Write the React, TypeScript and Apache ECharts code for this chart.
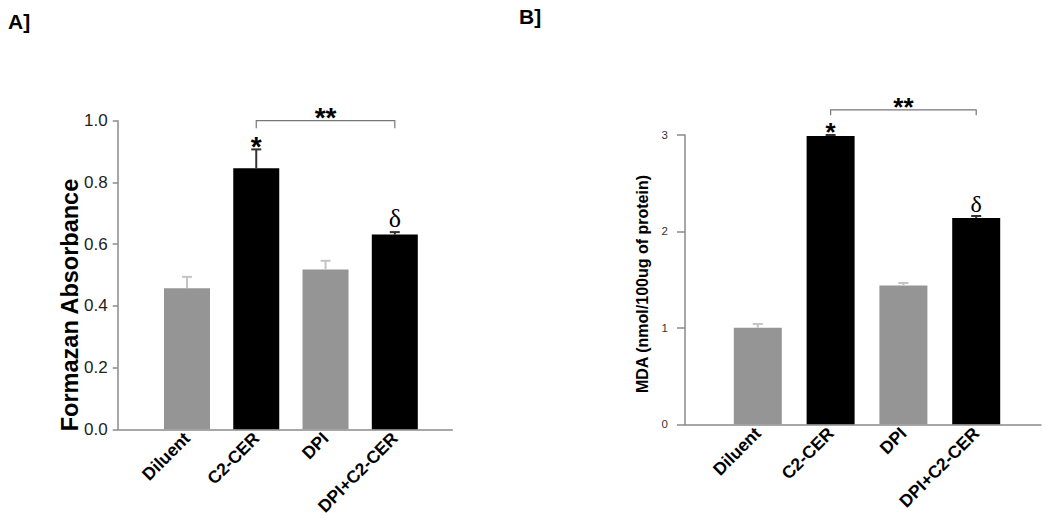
import React, { useEffect, useRef } from "react";
import * as echarts from "echarts";

// ---- data ----
const categories = ["Diluent", "C2-CER", "DPI", "DPI+C2-CER"];
const formazanMean = [0.457, 0.846, 0.518, 0.631];
const formazanErr = [0.037, 0.061, 0.028, 0.008];
const mdaMean = [1.0, 2.99, 1.44, 2.14];
const mdaErr = [0.04, 0.01, 0.025, 0.02];
const isTreated = [false, true, false, true];
const sigA = ["", "*", "", "δ"];
const sigB = ["", "*", "", "δ"];
const formazanTicks = [0, 0.2, 0.4, 0.6, 0.8, 1.0];
const mdaTicks = [0, 1, 2, 3];
// bracket: from category #, to category #, y level (data units)
const bracketA = [2, 4, 1.0];
const bracketB = [2, 4, 3.26];
const bracketLabel = "**";
const titleA = "Formazan Absorbance";
const titleB = "MDA (nmol/100ug of protein)";

const GRAY = "#959595";
const BLACK = "#000000";
const FONT = "Liberation Sans, Arial, sans-serif";

function barData(means: number[]) {
  return means.map((v, i) => ({
    value: [i + 1, v],
    itemStyle: { color: isTreated[i] ? BLACK : GRAY },
  }));
}
function errData(means: number[], errs: number[]) {
  return means.map((v, i) => [i + 1, v, errs[i], isTreated[i] ? 1 : 0]);
}
function sigData(means: number[], errs: number[], sig: string[]) {
  return sig
    .map((s, i) => ({ s, i }))
    .filter((d) => d.s !== "")
    .map((d) => ({ value: [d.i + 1, means[d.i] + errs[d.i]], sym: d.s }));
}

export default function App() {
  const ref = useRef<HTMLDivElement>(null);
  useEffect(() => {
    if (!ref.current) return;
    const chart = echarts.init(ref.current, undefined, { renderer: "svg" });

    const errRender = (capHalf: number) => (params: any, api: any) => {
      const x = api.value(0);
      const y = api.value(1);
      const e = api.value(2);
      const dark = api.value(3) === 1;
      const p0 = api.coord([x, y]);
      const p1 = api.coord([x, y + e]);
      const stroke = dark ? "#333333" : "#c4c4c4";
      return {
        type: "group",
        children: [
          { type: "line", shape: { x1: p0[0], y1: p0[1], x2: p1[0], y2: p1[1] }, style: { stroke, lineWidth: 2 } },
          { type: "line", shape: { x1: p1[0] - capHalf, y1: p1[1], x2: p1[0] + capHalf, y2: p1[1] }, style: { stroke, lineWidth: 2 } },
        ],
      };
    };

    const makeSig = (data: any[], xi: number, starSize: number, deltaSize: number, starGap: number, deltaGap: number) => ({
      type: "custom",
      xAxisIndex: xi,
      yAxisIndex: xi,
      z: 5,
      silent: true,
      data: data.map((d) => d.value),
      renderItem: (params: any, api: any) => {
        const sym = data[params.dataIndex].sym;
        const p = api.coord([api.value(0), api.value(1)]);
        if (sym === "*") {
          return {
            type: "text",
            x: p[0],
            y: p[1] - starGap + 0.17 * starSize,
            style: { text: sym, font: `bold ${starSize}px ${FONT}`, fill: "#000", align: "center", verticalAlign: "middle" },
          };
        }
        return {
          type: "text",
          x: p[0],
          y: p[1] - deltaGap,
          style: { text: sym, font: `${deltaSize}px Liberation Serif, Times New Roman, serif`, fill: "#000", align: "center", verticalAlign: "middle" },
        };
      },
    });

    const makeBracket = (br: number[], xi: number, drop: number, starSize: number, gap: number) => ({
      type: "custom",
      xAxisIndex: xi,
      yAxisIndex: xi,
      z: 5,
      silent: true,
      clip: false,
      data: [br],
      renderItem: (params: any, api: any) => {
        const a = api.coord([api.value(0), api.value(2)]);
        const b = api.coord([api.value(1), api.value(2)]);
        const stroke = "#777777";
        return {
          type: "group",
          children: [
            { type: "polyline", shape: { points: [[a[0], a[1] + drop], [a[0], a[1]], [b[0], b[1]], [b[0], b[1] + drop]] }, style: { stroke, lineWidth: 1.2, fill: "none" } },
            {
              type: "text",
              x: (a[0] + b[0]) / 2,
              y: a[1] - gap + 0.17 * starSize,
              style: { text: bracketLabel, font: `bold ${starSize}px ${FONT}`, fill: "#000", align: "center", verticalAlign: "middle" },
            },
          ],
        };
      },
    });

    const xAxisBase = (gi: number, max: number) => ({
      gridIndex: gi,
      type: "value",
      min: 0,
      max,
      interval: 1,
      splitLine: { show: false },
      axisTick: { show: false },
      axisLine: { show: true, lineStyle: { color: "#8a8a8a", width: 1.5 } },
      axisLabel: {
        rotate: 45,
        margin: 6,
        fontFamily: FONT,
        fontWeight: "bold",
        fontSize: 17.5,
        color: "#000",
        formatter: (v: number) => (Number.isInteger(v) && v >= 1 && v <= categories.length ? categories[v - 1] : ""),
      },
    });

    const option: any = {
      animation: false,
      textStyle: { fontFamily: FONT },
      grid: [
        { left: 117.7, width: 334.6, top: 120.7, height: 308.6 },
        { left: 685, width: 356, top: 135, height: 289.3 },
      ],
      xAxis: [xAxisBase(0, 4.83), xAxisBase(1, 4.89)],
      yAxis: [
        {
          gridIndex: 0,
          type: "value",
          min: formazanTicks[0],
          max: formazanTicks[formazanTicks.length - 1],
          interval: 0.2,
          splitLine: { show: false },
          axisLine: { show: true, lineStyle: { color: "#8a8a8a", width: 1.5 } },
          axisTick: { show: true, length: 5, lineStyle: { color: "#8a8a8a", width: 1.5 } },
          axisLabel: { fontSize: 17, color: "#222", margin: 10, formatter: (v: number) => v.toFixed(1) },
        },
        {
          gridIndex: 1,
          type: "value",
          min: mdaTicks[0],
          max: mdaTicks[mdaTicks.length - 1],
          interval: 1,
          splitLine: { show: false },
          axisLine: { show: true, lineStyle: { color: "#8a8a8a", width: 1.5 } },
          axisTick: { show: true, length: 8, lineStyle: { color: "#8a8a8a", width: 1.5 } },
          axisLabel: { fontSize: 11.5, color: "#333", margin: 17 },
        },
      ],
      graphic: [
        { type: "text", left: 8, top: 11, style: { text: "A]", font: `bold 21px ${FONT}`, fill: "#000" } },
        { type: "text", left: 519, top: 6, style: { text: "B]", font: `bold 21px ${FONT}`, fill: "#000" } },
        {
          type: "text",
          x: 70,
          y: 305,
          rotation: Math.PI / 2,
          style: { text: titleA, font: `bold 23.5px ${FONT}`, fill: "#000", align: "center", verticalAlign: "middle" },
        },
        {
          type: "text",
          x: 642,
          y: 284,
          rotation: Math.PI / 2,
          style: { text: titleB, font: `bold 16px ${FONT}`, fill: "#000", align: "center", verticalAlign: "middle" },
        },
      ],
      series: [
        { type: "bar", xAxisIndex: 0, yAxisIndex: 0, barWidth: 46, data: barData(formazanMean) },
        { type: "bar", xAxisIndex: 1, yAxisIndex: 1, barWidth: 48, data: barData(mdaMean) },
        { type: "custom", xAxisIndex: 0, yAxisIndex: 0, z: 4, silent: true, data: errData(formazanMean, formazanErr), renderItem: errRender(5) },
        { type: "custom", xAxisIndex: 1, yAxisIndex: 1, z: 4, silent: true, data: errData(mdaMean, mdaErr), renderItem: errRender(5) },
        makeSig(sigData(formazanMean, formazanErr, sigA), 0, 28, 26, 8, 14),
        makeSig(sigData(mdaMean, mdaErr, sigB), 1, 26, 24, 7.5, 12),
        makeBracket(bracketA, 0, 7.6, 28, 8),
        makeBracket(bracketB, 1, 5.3, 26, 7),
      ],
    };
    chart.setOption(option);
    return () => chart.dispose();
  }, []);

  return <div ref={ref} style={{ position: "absolute", left: 0, top: 0, width: 1050, height: 518, background: "#fff" }} />;
}
